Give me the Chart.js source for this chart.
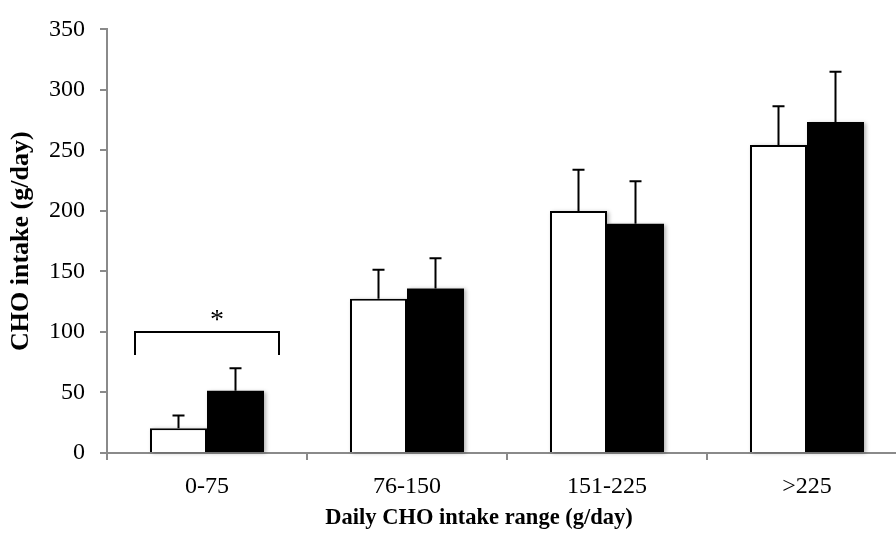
<!DOCTYPE html>
<html>
<head>
<meta charset="utf-8">
<title>CHO intake by daily intake range</title>
<script src="https://cdn.jsdelivr.net/npm/chart.js@4.4.1/dist/chart.umd.min.js"></script>
<style>
  html, body { margin: 0; padding: 0; background: #fff; overflow: hidden; }
  #wrap { width: 910px; height: 539px; }
</style>
</head>
<body>
<div id="wrap"><canvas id="chart" width="910" height="539"></canvas></div>
<script>
// Intake ranges (g/day)
const categories = ['0-75', '76-150', '151-225', '>225'];

// Mean CHO intake and SD for the two groups
const groupOpenMean  = [20.5, 127.5, 200, 254.5];
const groupOpenSD    = [10.5, 24, 34, 32];
const groupFilledMean = [51.5, 136, 189.5, 273.5];
const groupFilledSD   = [18.5, 25, 35, 41.5];

// Y axis ticks
const yTicks = [0, 50, 100, 150, 200, 250, 300, 350];

// Significant difference marker (category index, bracket level, leg end, symbol)
const significance = [{ index: 0, level: 100, legEnd: 81, symbol: '*' }];

const xTitle = 'Daily CHO intake range (g/day)';

const FONT = '"Liberation Serif", "Times New Roman", serif';
const AXIS_GRAY = '#8a8a8a';

// Soft drop shadow behind each bar, painted before the bars themselves
const barShadow = {
  id: 'barShadow',
  beforeDatasetsDraw(chart) {
    const ctx = chart.ctx;
    ctx.save();
    ctx.shadowColor = 'rgba(0,0,0,0.30)';
    ctx.shadowBlur = 4;
    ctx.shadowOffsetX = 2;
    ctx.shadowOffsetY = 1;
    ctx.fillStyle = '#ffffff';
    chart.data.datasets.forEach((ds, di) => {
      chart.getDatasetMeta(di).data.forEach(bar => {
        const p = bar.getProps(['x', 'y', 'base', 'width'], true);
        ctx.fillRect(p.x - p.width / 2, p.y, p.width, p.base - p.y);
      });
    });
    ctx.restore();
  }
};

// Upper SD whiskers with caps
const errorBars = {
  id: 'errorBars',
  afterDatasetsDraw(chart) {
    const ctx = chart.ctx;
    const y = chart.scales.y;
    ctx.save();
    ctx.strokeStyle = '#000';
    ctx.lineWidth = 2;
    chart.data.datasets.forEach((ds, di) => {
      const meta = chart.getDatasetMeta(di);
      meta.data.forEach((bar, i) => {
        const top = y.getPixelForValue(ds.data[i] + ds.sd[i]);
        const base = y.getPixelForValue(ds.data[i]);
        const cap = 6;
        ctx.beginPath();
        ctx.moveTo(bar.x, base);
        ctx.lineTo(bar.x, top);
        ctx.moveTo(bar.x - cap, top);
        ctx.lineTo(bar.x + cap, top);
        ctx.stroke();
      });
    });
    ctx.restore();
  }
};

// Bracket and asterisk over a category, plus the x axis title
const annotations = {
  id: 'annotations',
  afterDraw(chart) {
    const ctx = chart.ctx;
    const x = chart.scales.x, y = chart.scales.y;
    const catW = x.width / categories.length;
    ctx.save();
    ctx.strokeStyle = '#000';
    ctx.fillStyle = '#000';
    ctx.lineWidth = 2;
    significance.forEach(s => {
      const cx = x.getPixelForValue(s.index);
      const half = catW * 0.36;
      const yTop = y.getPixelForValue(s.level);
      const yLeg = y.getPixelForValue(s.legEnd);
      ctx.beginPath();
      ctx.moveTo(cx - half, yLeg);
      ctx.lineTo(cx - half, yTop);
      ctx.lineTo(cx + half, yTop);
      ctx.lineTo(cx + half, yLeg);
      ctx.stroke();
      ctx.font = '28px ' + FONT;
      ctx.textAlign = 'center';
      ctx.textBaseline = 'middle';
      ctx.fillText(s.symbol, cx + 10, yTop - 11);
    });
    // x axis title, centred on the visible part of the axis
    ctx.font = 'bold 22.5px ' + FONT;
    ctx.textAlign = 'center';
    ctx.textBaseline = 'middle';
    ctx.fillText(xTitle, (x.left + x.getPixelForValue(categories.length - 1)) / 2 + 22, chart.height - 21);
    ctx.restore();
  }
};

new Chart(document.getElementById('chart'), {
  type: 'bar',
  data: {
    labels: categories,
    datasets: [
      {
        label: 'Group 1',
        data: groupOpenMean,
        sd: groupOpenSD,
        backgroundColor: '#ffffff',
        borderColor: '#000000',
        borderWidth: 2,
        borderSkipped: 'bottom'
      },
      {
        label: 'Group 2',
        data: groupFilledMean,
        sd: groupFilledSD,
        backgroundColor: '#000000',
        borderColor: '#000000',
        borderWidth: 0
      }
    ]
  },
  options: {
    responsive: false,
    animation: false,
    events: [],
    layout: { padding: { top: 22, right: 3, bottom: 0, left: 0 } },
    plugins: {
      legend: { display: false },
      tooltip: { enabled: false }
    },
    datasets: {
      bar: { categoryPercentage: 0.57, barPercentage: 1.0 }
    },
    scales: {
      x: {
        grid: {
          offset: true,
          drawOnChartArea: false,
          drawTicks: true,
          tickLength: 7,
          color: AXIS_GRAY,
          lineWidth: 2
        },
        border: { display: true, color: AXIS_GRAY, width: 2 },
        ticks: {
          color: '#000',
          font: { family: FONT, size: 24 },
          padding: 12
        },
        title: { display: false },
        afterFit(scale) { scale.height = 86; }
      },
      y: {
        min: 0,
        max: 350,
        afterBuildTicks(scale) { scale.ticks = yTicks.map(v => ({ value: v })); },
        grid: {
          drawOnChartArea: false,
          drawTicks: true,
          tickLength: 7,
          color: AXIS_GRAY,
          lineWidth: 2
        },
        border: { display: true, color: AXIS_GRAY, width: 2 },
        ticks: {
          color: '#000',
          font: { family: FONT, size: 24 },
          padding: 15
        },
        title: {
          display: true,
          text: 'CHO intake (g/day)',
          color: '#000',
          font: { family: FONT, size: 26, weight: 'bold' },
          padding: { top: 6, bottom: 0 }
        },
        afterFit(scale) { scale.width = 107; }
      }
    }
  },
  plugins: [barShadow, errorBars, annotations]
});
</script>
</body>
</html>
